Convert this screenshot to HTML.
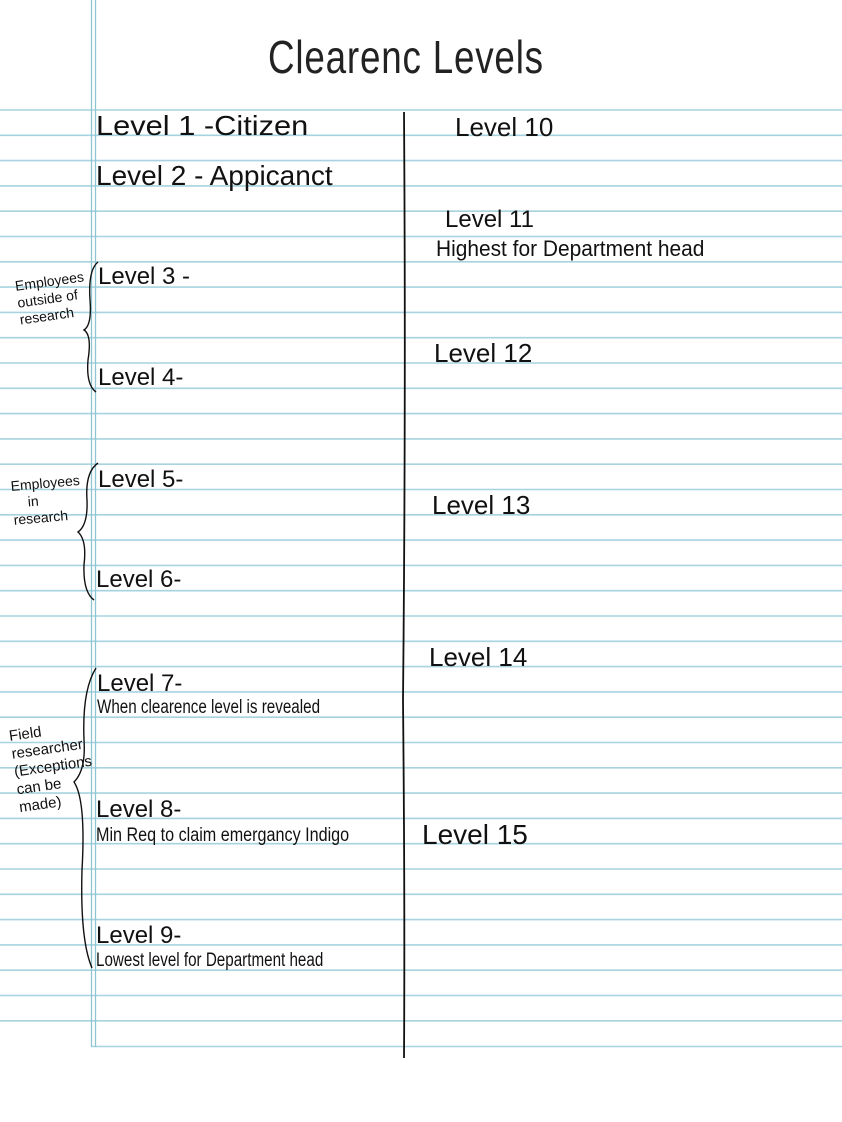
<!DOCTYPE html>
<html><head><style>
html,body{margin:0;padding:0;background:#fff;}
body{width:842px;height:1122px;position:relative;overflow:hidden;font-family:"Liberation Sans",sans-serif;color:#111;}
.t{position:absolute;white-space:nowrap;font-weight:normal;transform-origin:left top;}
</style></head><body>
<svg width="842" height="1122" style="position:absolute;left:0;top:0">
<g stroke="#a6d3df" stroke-width="1.6">
<line x1="0" y1="110" x2="842" y2="110"/><line x1="0" y1="135.3" x2="842" y2="135.3"/><line x1="0" y1="160.6" x2="842" y2="160.6"/><line x1="0" y1="185.9" x2="842" y2="185.9"/><line x1="0" y1="211.2" x2="842" y2="211.2"/><line x1="0" y1="236.5" x2="842" y2="236.5"/><line x1="0" y1="261.8" x2="842" y2="261.8"/><line x1="0" y1="287.1" x2="842" y2="287.1"/><line x1="0" y1="312.4" x2="842" y2="312.4"/><line x1="0" y1="337.7" x2="842" y2="337.7"/><line x1="0" y1="363" x2="842" y2="363"/><line x1="0" y1="388.3" x2="842" y2="388.3"/><line x1="0" y1="413.6" x2="842" y2="413.6"/><line x1="0" y1="438.9" x2="842" y2="438.9"/><line x1="0" y1="464.2" x2="842" y2="464.2"/><line x1="0" y1="489.5" x2="842" y2="489.5"/><line x1="0" y1="514.8" x2="842" y2="514.8"/><line x1="0" y1="540.1" x2="842" y2="540.1"/><line x1="0" y1="565.4" x2="842" y2="565.4"/><line x1="0" y1="590.7" x2="842" y2="590.7"/><line x1="0" y1="616" x2="842" y2="616"/><line x1="0" y1="641.3" x2="842" y2="641.3"/><line x1="0" y1="666.6" x2="842" y2="666.6"/><line x1="0" y1="691.9" x2="842" y2="691.9"/><line x1="0" y1="717.2" x2="842" y2="717.2"/><line x1="0" y1="742.5" x2="842" y2="742.5"/><line x1="0" y1="767.8" x2="842" y2="767.8"/><line x1="0" y1="793.1" x2="842" y2="793.1"/><line x1="0" y1="818.4" x2="842" y2="818.4"/><line x1="0" y1="843.7" x2="842" y2="843.7"/><line x1="0" y1="869" x2="842" y2="869"/><line x1="0" y1="894.3" x2="842" y2="894.3"/><line x1="0" y1="919.6" x2="842" y2="919.6"/><line x1="0" y1="944.9" x2="842" y2="944.9"/><line x1="0" y1="970.2" x2="842" y2="970.2"/><line x1="0" y1="995.5" x2="842" y2="995.5"/><line x1="0" y1="1020.8" x2="842" y2="1020.8"/><line x1="91" y1="1046.5" x2="842" y2="1046.5"/>
</g>
<line x1="91.5" y1="0" x2="91.5" y2="1047" stroke="#8ec5d3" stroke-width="1.3"/>
<line x1="95.5" y1="0" x2="95.5" y2="1047" stroke="#8ec5d3" stroke-width="1.3"/>
<path d="M404 112 Q406 400 403 700 Q405 900 404 1058" stroke="#111" stroke-width="1.8" fill="none"/>
<path d="M98 262 Q88 270 90 300 Q92 325 84 330 Q92 335 88 360 Q86 385 96 392" stroke="#111" stroke-width="1.4" fill="none"/>
<path d="M98 463 Q85 472 87 500 Q88 525 78 532 Q87 540 84 565 Q83 592 94 600" stroke="#111" stroke-width="1.4" fill="none"/>
<path d="M96 668 Q82 690 84 740 Q86 770 74 782 Q86 800 82 870 Q80 940 92 968" stroke="#111" stroke-width="1.4" fill="none"/>
</svg>
<div class="t" style="left:268px;top:30px;font-size:46px;color:#222;letter-spacing:1px;transform:scaleX(0.8)">Clearenc Levels</div>
<div class="t" style="left:96px;top:110px;font-size:28px;transform:scaleX(1.1)">Level 1 -Citizen</div>
<div class="t" style="left:96px;top:160px;font-size:28px">Level 2 - Appicanct</div>
<div class="t" style="left:98px;top:263px;font-size:24px">Level 3 -</div>
<div class="t" style="left:98px;top:364px;font-size:24px">Level 4-</div>
<div class="t" style="left:98px;top:466px;font-size:24px">Level 5-</div>
<div class="t" style="left:96px;top:566px;font-size:24px">Level 6-</div>
<div class="t" style="left:97px;top:670px;font-size:24px">Level 7-</div>
<div class="t" style="left:97px;top:697px;font-size:19px;transform:scaleX(0.8)">When clearence level is revealed</div>
<div class="t" style="left:96px;top:796px;font-size:24px">Level 8-</div>
<div class="t" style="left:96px;top:825px;font-size:19px;transform:scaleX(0.85)">Min Req to claim emergancy Indigo</div>
<div class="t" style="left:96px;top:922px;font-size:24px">Level 9-</div>
<div class="t" style="left:96px;top:950px;font-size:19px;transform:scaleX(0.8)">Lowest level for Department head</div>
<div class="t" style="left:14px;top:278px;font-size:14px;line-height:17px;transform:rotate(-8deg)">Employees<br>outside of<br>research</div>
<div class="t" style="left:10px;top:478px;font-size:14px;line-height:17px;transform:rotate(-5deg)">Employees<br>&nbsp;&nbsp;&nbsp;&nbsp;in<br>research</div>
<div class="t" style="left:8px;top:728px;font-size:15px;line-height:18px;transform:rotate(-8deg)">Field<br>researcher<br>(Exceptions<br>can be<br>made)</div>
<div class="t" style="left:455px;top:112px;font-size:26px">Level 10</div>
<div class="t" style="left:445px;top:208px;font-size:24px;line-height:24px">Level 11</div>
<div class="t" style="left:436px;top:236px;font-size:22px;transform:scaleX(0.95)">Highest for Department head</div>
<div class="t" style="left:434px;top:338px;font-size:26px">Level 12</div>
<div class="t" style="left:432px;top:490px;font-size:26px">Level 13</div>
<div class="t" style="left:429px;top:642px;font-size:26px">Level 14</div>
<div class="t" style="left:422px;top:819px;font-size:28px">Level 15</div>
</body></html>
